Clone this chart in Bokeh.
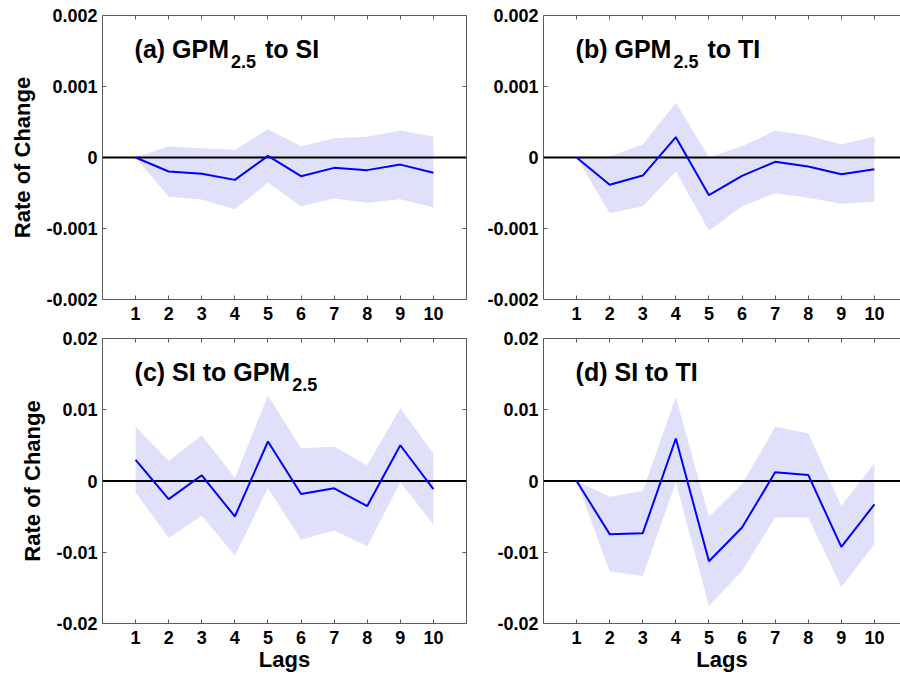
from bokeh.plotting import figure
from bokeh.layouts import column, row
from bokeh.models import Range1d, FixedTicker, LinearAxis, Span, Label
from bokeh.embed import file_html
from bokeh.resources import INLINE

# ---------------- data ----------------
lags = [1, 2, 3, 4, 5, 6, 7, 8, 9, 10]
x_tick_labels = ["1", "2", "3", "4", "5", "6", "7", "8", "9", "10"]

# (a) GPM2.5 to SI
a_irf = [0.0, -0.000197, -0.00023, -0.000315, 0.000023, -0.000263, -0.000146, -0.000178, -0.0001, -0.000216]
a_hi = [0.0, 0.00016, 0.000131, 0.000108, 0.000399, 0.00016, 0.000272, 0.000291, 0.00038, 0.000296]
a_lo = [0.0, -0.000554, -0.000592, -0.000728, -0.000357, -0.000685, -0.000577, -0.000638, -0.000587, -0.000704]

# (b) GPM2.5 to TI
b_irf = [0.0, -0.000385, -0.000254, 0.000286, -0.00053, -0.000258, -0.000061, -0.000127, -0.000235, -0.000164]
b_hi = [0.0, 0.000014, 0.000183, 0.00077, 0.000005, 0.00016, 0.000376, 0.00031, 0.000183, 0.000296]
b_lo = [0.0, -0.00078, -0.00069, -0.000192, -0.00103, -0.000685, -0.000502, -0.000568, -0.000653, -0.000624]

# (c) SI to GPM2.5
c_irf = [0.00296, -0.00254, 0.0008, -0.00498, 0.00554, -0.00183, -0.00103, -0.00352, 0.00502, -0.00113]
c_hi = [0.00765, 0.00282, 0.00643, 0.00047, 0.0120, 0.0046, 0.00479, 0.00221, 0.01023, 0.00385]
c_lo = [-0.0016, -0.00798, -0.00488, -0.01047, -0.00099, -0.00826, -0.0069, -0.00915, -0.00019, -0.0061]

# (d) SI to TI
d_irf = [0.0, -0.00746, -0.00732, 0.00596, -0.01127, -0.00653, 0.00122, 0.00085, -0.00925, -0.00329]
d_hi = [0.0, -0.00221, -0.00141, 0.01178, -0.00502, -0.00047, 0.0076, 0.00671, -0.00352, 0.00249]
d_lo = [0.0, -0.01268, -0.01333, -0.00019, -0.01756, -0.01263, -0.00512, -0.00512, -0.01488, -0.00887]

y_ticks_small = [-0.002, -0.001, 0.0, 0.001, 0.002]
y_labels_small = ["-0.002", "-0.001", "0", "0.001", "0.002"]
y_ticks_large = [-0.02, -0.01, 0.0, 0.01, 0.02]
y_labels_large = ["-0.02", "-0.01", "0", "0.01", "0.02"]

titles = {
    "a": [("(a) GPM", False), ("2.5", True), (" to SI", False)],
    "b": [("(b) GPM", False), ("2.5", True), (" to TI", False)],
    "c": [("(c) SI to GPM", False), ("2.5", True)],
    "d": [("(d) SI to TI", False)],
}

# ---------------- styling ----------------
FONT = "Liberation Sans"
FRAME_COLOR = "#5a5a5a"
BAND_COLOR = "#e0e0fa"
LINE_COLOR = "#0000ff"
TICK_FS = 18
LABEL_FS = 22
TITLE_FS = 25
SUB_FS = 18

# Arial/Liberation Sans Bold advance widths (per 1000 em)
ADV = {"(": 333, ")": 333, "a": 556, "b": 611, "c": 556, "d": 611, " ": 278,
       "G": 778, "P": 667, "M": 833, "2": 556, ".": 278, "5": 556, "t": 333,
       "o": 611, "S": 667, "I": 278, "T": 611}


def text_w(s, fs):
    return sum(ADV.get(ch, 556) for ch in s) * fs / 1000.0


X_MAX = 11.0
FRAME_W_LEFT = 364
FRAME_W_RIGHT = 357


def make_panel(irf, lo, hi, yticks, ylabels, title_key, is_left, is_bottom):
    frame_w = FRAME_W_LEFT if is_left else FRAME_W_RIGHT
    bl = 102 if is_left else 61
    br = 16 if is_left else 0
    if is_bottom:
        bt, fh, bb = 9, 285, 55
    else:
        bt, fh, bb = 15, 284, 30
    ymax = yticks[-1]
    ymin = yticks[0]
    xmax = X_MAX * frame_w / FRAME_W_LEFT
    p = figure(width=bl + frame_w + br, height=bt + fh + bb,
               x_range=Range1d(0, xmax), y_range=Range1d(ymin, ymax),
               output_backend="svg", toolbar_location=None,
               min_border_left=bl, min_border_right=br,
               min_border_top=bt, min_border_bottom=bb,
               x_axis_location=None, y_axis_location=None)
    p.outline_line_color = None
    p.grid.visible = False
    p.background_fill_color = "white"
    p.border_fill_color = "white"

    def style_axis(ax, ticks, labels, show_labels):
        ax.ticker = FixedTicker(ticks=ticks)
        ax.axis_line_color = FRAME_COLOR
        ax.axis_line_width = 1
        ax.major_tick_line_color = FRAME_COLOR
        ax.major_tick_in = 4
        ax.major_tick_out = 0
        ax.minor_tick_line_color = None
        ax.major_label_text_font = FONT
        ax.major_label_text_font_style = "bold"
        ax.major_label_text_color = "black"
        if show_labels:
            ax.major_label_overrides = {t: l for t, l in zip(ticks, labels)}
            ax.major_label_text_font_size = f"{TICK_FS}px"
        else:
            ax.major_label_overrides = {t: "" for t in ticks}
            ax.major_label_text_font_size = "1px"
            ax.major_label_standoff = 0
        ax.axis_label_text_font = FONT
        ax.axis_label_text_font_style = "bold"
        ax.axis_label_text_font_size = f"{LABEL_FS}px"
        ax.axis_label_text_color = "black"

    xt = [float(v) for v in lags]
    left = LinearAxis()
    style_axis(left, yticks, ylabels, True)
    left.major_label_standoff = 5
    if is_left:
        left.axis_label = "Rate of Change"
        left.axis_label_standoff = 8
    p.add_layout(left, "left")

    bottom = LinearAxis()
    style_axis(bottom, xt, x_tick_labels, True)
    bottom.major_label_standoff = 7
    if is_bottom:
        bottom.axis_label = "Lags"
        bottom.axis_label_standoff = 0
    p.add_layout(bottom, "below")

    top = LinearAxis()
    style_axis(top, xt, x_tick_labels, False)
    p.add_layout(top, "above")

    if is_left:
        right = LinearAxis()
        style_axis(right, yticks, ylabels, False)
        p.add_layout(right, "right")

    # confidence band, zero line, response
    p.varea(x=lags, y1=lo, y2=hi, fill_color=BAND_COLOR, fill_alpha=1.0)
    p.add_layout(Span(location=0, dimension="width", line_color="black", line_width=2))
    r = p.line(x=lags, y=irf, line_color=LINE_COLOR, line_width=2)
    r.level = "overlay"

    # panel title with subscript
    yr = ymax - ymin
    y_main = ymax - 33.5 / fh * yr
    y_sub = ymax - 45.5 / fh * yr
    xoff = -1.0
    for txt, is_sub in titles[title_key]:
        fs = SUB_FS if is_sub else TITLE_FS
        lead = 0.0
        if txt.startswith(" "):
            lead = text_w(" ", fs) + 2
            txt = txt.lstrip(" ")
        xoff += lead
        p.add_layout(Label(x=lags[0], y=y_sub if is_sub else y_main, x_offset=xoff,
                           text=txt, text_font=FONT, text_font_style="bold",
                           text_font_size=f"{fs}px", text_color="black",
                           text_align="left", text_baseline="alphabetic"))
        xoff += text_w(txt, fs) + (2 if not is_sub else 0)
    return p


pa = make_panel(a_irf, a_lo, a_hi, y_ticks_small, y_labels_small, "a", True, False)
pb = make_panel(b_irf, b_lo, b_hi, y_ticks_small, y_labels_small, "b", False, False)
pc = make_panel(c_irf, c_lo, c_hi, y_ticks_large, y_labels_large, "c", True, True)
pd = make_panel(d_irf, d_lo, d_hi, y_ticks_large, y_labels_large, "d", False, True)

layout = column(row(pa, pb, spacing=0), row(pc, pd, spacing=0), spacing=0)

open("out.html", "w").write(file_html(layout, INLINE))
